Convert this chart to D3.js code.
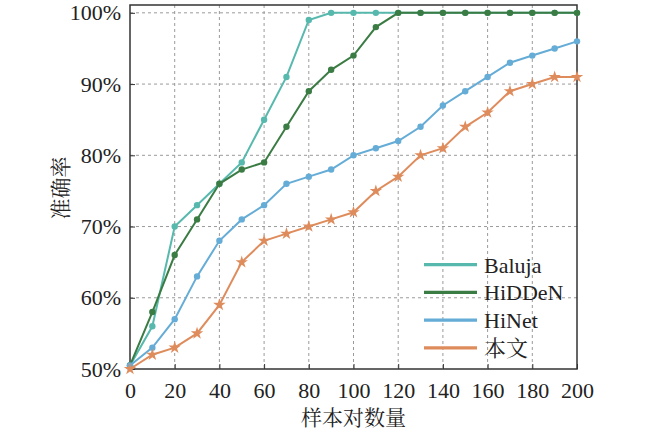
<!DOCTYPE html>
<html>
<head>
<meta charset="utf-8">
<script src="https://cdn.jsdelivr.net/npm/d3@7"></script>
<style>
	body { margin: 0; background: #fff; }
	.axis text { font-family: "Liberation Serif", "Times New Roman", serif; font-size: 22px; fill: #222; }
	.axis path, .axis line { stroke: #333; }
	.grid line { stroke: #9a9a9a; stroke-width: 1; stroke-dasharray: 3,3; }
	.label { font-family: "Liberation Serif", "Noto Serif CJK SC", "Noto Sans CJK SC", serif; font-size: 21px; fill: #222; }
</style>
</head>
<body>
<div id="chart"></div>
<script>
//Data
var samples = [0, 10, 20, 30, 40, 50, 60, 70, 80, 90, 100, 110, 120, 130, 140, 150, 160, 170, 180, 190, 200];
var baluja = [50.5, 56, 70, 73, 76, 79, 85, 91, 99, 100, 100, 100, 100, 100, 100, 100, 100, 100, 100, 100, 100];
var hidden = [50.5, 58, 66, 71, 76, 78, 79, 84, 89, 92, 94, 98, 100, 100, 100, 100, 100, 100, 100, 100, 100];
var hinet = [50.5, 53, 57, 63, 68, 71, 73, 76, 77, 78, 80, 81, 82, 84, 87, 89, 91, 93, 94, 95, 96];
var ours = [50, 52, 53, 55, 59, 65, 68, 69, 70, 71, 72, 75, 77, 80, 81, 84, 86, 89, 90, 91, 91];
var seriesNames = ["Baluja", "HiDDeN", "HiNet", "本文"];
var xTicks = [0, 20, 40, 60, 80, 100, 120, 140, 160, 180, 200];
var yTicks = [50, 60, 70, 80, 90, 100];

var series = [
	{ name: seriesNames[0], values: baluja, color: "#57b9ad", marker: "circle" },
	{ name: seriesNames[1], values: hidden, color: "#3b7c44", marker: "circle" },
	{ name: seriesNames[2], values: hinet, color: "#65acd6", marker: "circle" },
	{ name: seriesNames[3], values: ours, color: "#df8c5d", marker: "star" }
];

//SVG setup
var width = 650;
var height = 433;
var plot = { left: 130, right: 577, top: 5, bottom: 369 };

var svg = d3.select("#chart")
	.append("svg")
	.attr("width", width)
	.attr("height", height);

//Scales
var x = d3.scaleLinear()
	.domain([0, 200])
	.range([plot.left, plot.right]);

var y = d3.scaleLinear()
	.domain([50, 101.1])
	.range([plot.bottom, plot.top]);

//Dashed grid
var grid = svg.append("g").attr("class", "grid");
grid.selectAll(".vgrid")
	.data(xTicks.slice(1, -1))
	.enter()
	.append("line")
	.attr("x1", function(d) { return x(d); })
	.attr("x2", function(d) { return x(d); })
	.attr("y1", plot.top)
	.attr("y2", plot.bottom);
grid.selectAll(".hgrid")
	.data(yTicks.slice(1))
	.enter()
	.append("line")
	.attr("x1", plot.left)
	.attr("x2", plot.right)
	.attr("y1", function(d) { return y(d); })
	.attr("y2", function(d) { return y(d); });

//Axes, ticks pointing inwards
var xAxis = svg.append("g")
	.attr("class", "x axis")
	.attr("transform", "translate(0," + plot.bottom + ")")
	.call(d3.axisBottom(x).tickValues(xTicks).tickSizeInner(-5).tickSizeOuter(0).tickPadding(13));

var yAxis = svg.append("g")
	.attr("class", "y axis")
	.attr("transform", "translate(" + plot.left + ",0)")
	.call(d3.axisLeft(y).tickValues(yTicks).tickSizeInner(-5).tickSizeOuter(0).tickPadding(9)
		.tickFormat(function(d) { return d + "%"; }));

svg.selectAll(".axis .domain").remove();

//Frame
svg.append("rect")
	.attr("x", plot.left)
	.attr("y", plot.top)
	.attr("width", plot.right - plot.left)
	.attr("height", plot.bottom - plot.top)
	.attr("fill", "none")
	.attr("stroke", "#333")
	.attr("stroke-width", 1.5);

//Lines and markers
var line = d3.line()
	.x(function(d, i) { return x(samples[i]); })
	.y(function(d) { return y(d); });

var star = d3.symbol().type(d3.symbolStar).size(48);

series.forEach(function(s) {
	var g = svg.append("g").attr("class", "series");
	g.append("path")
		.datum(s.values)
		.attr("fill", "none")
		.attr("stroke", s.color)
		.attr("stroke-width", 2)
		.attr("d", line);
	if (s.marker === "circle") {
		g.selectAll("circle")
			.data(s.values)
			.enter()
			.append("circle")
			.attr("cx", function(d, i) { return x(samples[i]); })
			.attr("cy", function(d) { return y(d); })
			.attr("r", 3.2)
			.attr("fill", s.color);
	} else {
		g.selectAll("path.mk")
			.data(s.values)
			.enter()
			.append("path")
			.attr("class", "mk")
			.attr("transform", function(d, i) { return "translate(" + x(samples[i]) + "," + y(d) + ")"; })
			.attr("d", star)
			.attr("fill", s.color);
	}
});

//Axis labels
svg.append("text")
	.attr("class", "label")
	.attr("x", (plot.left + plot.right) / 2)
	.attr("y", 425)
	.attr("text-anchor", "middle")
	.text("样本对数量");

svg.append("text")
	.attr("class", "label")
	.attr("transform", "translate(68," + 188 + ") rotate(-90)")
	.attr("text-anchor", "middle")
	.text("准确率");

//Legend
var legend = svg.selectAll(".legend")
	.data(series)
	.enter()
	.append("g")
	.attr("class", "legend")
	.attr("transform", function(d, i) { return "translate(424," + (264.7 + i * 27.7) + ")"; });
legend.append("line")
	.attr("x1", 0)
	.attr("x2", 53)
	.attr("stroke", function(d) { return d.color; })
	.attr("stroke-width", 3.2);
legend.append("text")
	.attr("class", "label")
	.attr("x", 60)
	.attr("y", 8)
	.style("font-size", "22px")
	.text(function(d) { return d.name; });
</script>
</body>
</html>
